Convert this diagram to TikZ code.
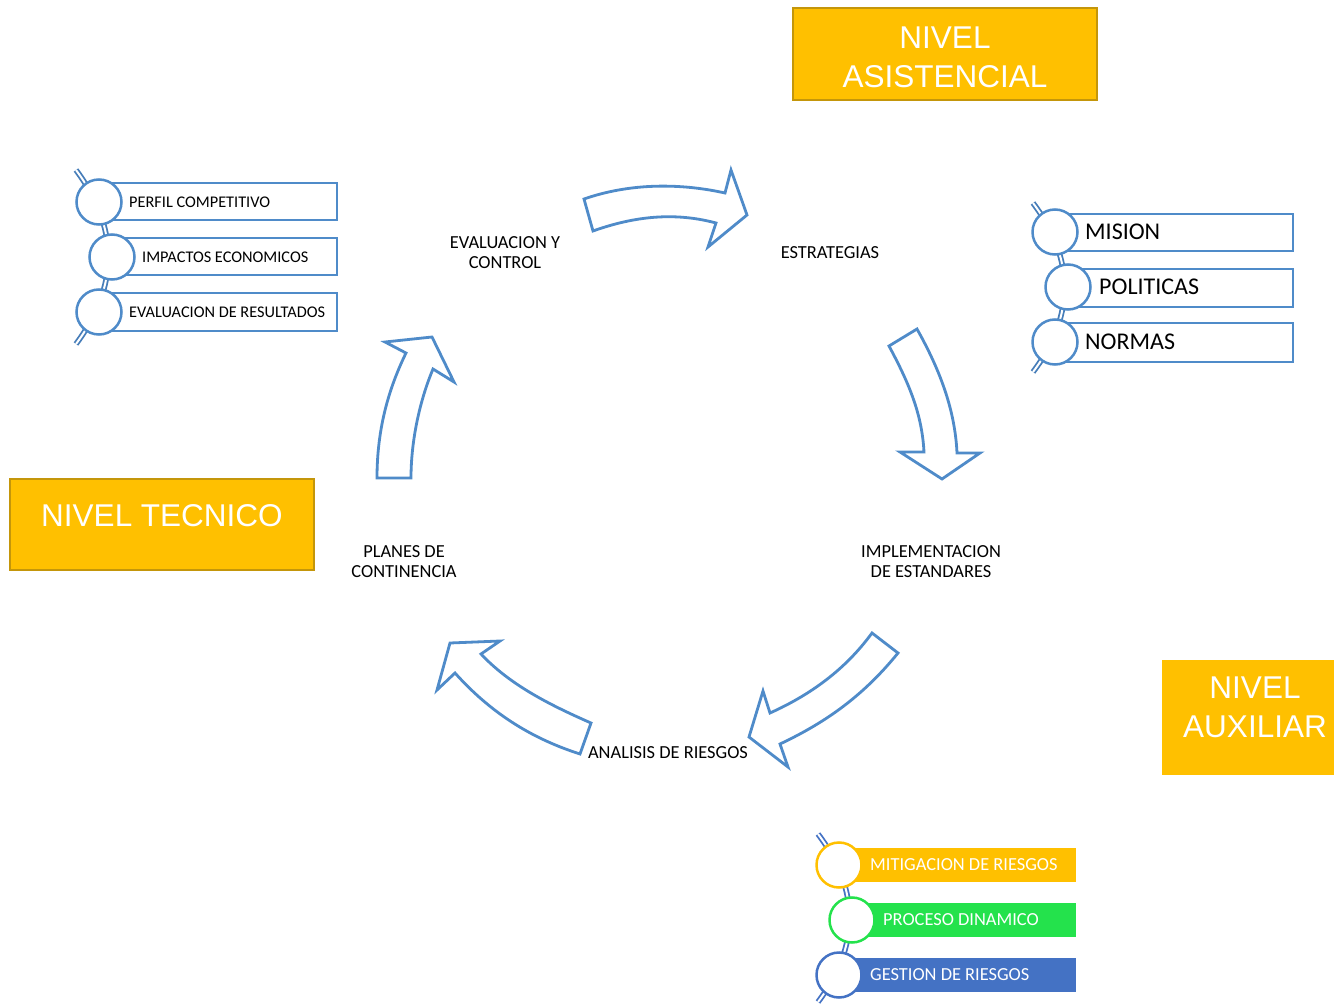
\documentclass[tikz,border=0pt]{standalone}
\usepackage{fontspec}
\setmainfont{Carlito}
\newfontfamily\arialf{Liberation Sans}
\definecolor{ablue}{RGB}{79,139,201}
\definecolor{sblue}{RGB}{70,125,185}
\definecolor{gold}{RGB}{255,192,0}
\definecolor{goldedge}{RGB}{196,150,10}
\definecolor{lgreen}{RGB}{36,226,76}
\definecolor{dblue}{RGB}{68,114,196}
\begin{document}
\begin{tikzpicture}[x=1pt,y=-1pt,
  blockarrow/.style={draw=ablue, line width=2.8pt, fill=white, line join=miter},
  lbl/.style={font=\fontsize{18.4}{20}\selectfont, align=center, text=black, inner sep=0pt},
  nivbox/.style={fill=gold, draw=goldedge, line width=2pt, inner sep=0pt},
  nivtxt/.style={font=\arialf\fontsize{31.5}{39}\selectfont, text=white, align=center, inner sep=0pt},
  spine/.style={draw=#1, double=white, double distance=2pt, line width=1.8pt},
  itembox/.style={draw=ablue, fill=white, line width=2.5pt},
  itemcirc/.style={circle, draw=#1, fill=white, line width=2.5pt, minimum size=45pt, inner sep=0pt},
  smalltxt/.style={anchor=west, font=\fontsize{16.3}{18}\selectfont, inner sep=0pt},
  bigtxt/.style={anchor=west, font=\fontsize{24}{28}\selectfont, inner sep=0pt},
  bartxt/.style={anchor=west, font=\fontsize{18.4}{20}\selectfont, text=white, inner sep=0pt}
]
\clip (0,0) rectangle (1334,1008);
\fill[white] (0,0) rectangle (1334,1008);

% ---- level boxes ----
\node[nivbox, minimum width=304pt, minimum height=92pt] (asis) at (945,54) {};
\node[nivtxt] (asisT) at ([yshift=-3.5pt]asis.center) {NIVEL\\ASISTENCIAL};
\node[nivbox, minimum width=304pt, minimum height=91pt] (tec) at (162,524.5) {};
\node[nivtxt] (tecT) at ([yshift=9pt]tec.center) {NIVEL TECNICO};
\node[fill=gold, inner sep=0pt, minimum width=186pt, minimum height=115pt] (aux) at (1255,717.5) {};
\node[nivtxt] (auxT) at ([yshift=10.5pt]aux.center) {NIVEL\\AUXILIAR};

% ---- cycle labels ----
\node[lbl] (eval) at (505,253) {EVALUACION Y\\CONTROL};
\node[lbl] (estr) at (830,253) {ESTRATEGIAS};
\node[lbl] (impl) at (931,562) {IMPLEMENTACION\\DE ESTANDARES};
\node[lbl] (anal) at (668,753) {ANALISIS DE RIESGOS};
\node[lbl] (plan) at (404,562) {PLANES DE\\CONTINENCIA};

% ---- block arrows ----
\draw[blockarrow] (584,199) .. controls (630,183) and (680,183) .. (725,193) -- (731,170) -- (747,215) -- (708,247) -- (716,223) .. controls (675,212) and (635,216) .. (593,231) -- cycle;
\draw[blockarrow] (889,346) -- (917,329) .. controls (940,370) and (955,410) .. (957,453) -- (980,453) -- (942,479) -- (900,452) -- (924,452) .. controls (922,415) and (910,385) .. (889,346) -- cycle;
\draw[blockarrow] (872,633) -- (898,653) .. controls (860,700) and (820,725) .. (780,744) -- (788,767) -- (749,737) -- (763,691) -- (770,713) .. controls (810,695) and (845,670) .. (872,633) -- cycle;
\draw[blockarrow] (591,723) -- (580,754) .. controls (530,738) and (490,712) .. (455,673) -- (437,690) -- (450,643) -- (500,641) -- (481,654) .. controls (510,685) and (550,705) .. (591,723) -- cycle;
\draw[blockarrow] (377,478) .. controls (377,430) and (388,390) .. (406,353) -- (385,342) -- (432,337) -- (454,382) -- (433,369) .. controls (420,400) and (411,440) .. (411,478) -- cycle;

% ---- top-left list ----
\coordinate (tlA) at (76,170);
\coordinate (tlB) at (76,344);
\draw[spine=sblue] (tlA) .. controls (119,228) and (119,286) .. (tlB);
\draw[itembox] (99,183) rectangle (337,220);
\draw[itembox] (112,238) rectangle (337,275);
\draw[itembox] (99,293) rectangle (337,331);
\node[itemcirc=ablue] (tl1) at (99,202) {};
\node[itemcirc=ablue] (tl2) at (112,257) {};
\node[itemcirc=ablue] (tl3) at (99,312) {};
\node[smalltxt] (tl1t) at (129,202) {PERFIL COMPETITIVO};
\node[smalltxt] (tl2t) at (142,257) {IMPACTOS ECONOMICOS};
\node[smalltxt] (tl3t) at (129,312) {EVALUACION DE RESULTADOS};

% ---- right list ----
\coordinate (rA) at (1033,203);
\coordinate (rB) at (1033,372);
\draw[spine=sblue] (rA) .. controls (1075,259) and (1075,316) .. (rB);
\draw[itembox] (1055,214) rectangle (1293,251);
\draw[itembox] (1068,269) rectangle (1293,307);
\draw[itembox] (1055,323) rectangle (1293,362);
\node[itemcirc=ablue] (r1) at (1055,232) {};
\node[itemcirc=ablue] (r2) at (1068,287) {};
\node[itemcirc=ablue] (r3) at (1055,342) {};
\node[bigtxt] (r1t) at (1085,232) {MISION};
\node[bigtxt] (r2t) at (1099,287) {POLITICAS};
\node[bigtxt] (r3t) at (1085,342) {NORMAS};

% ---- bottom list ----
\coordinate (bA) at (818,834);
\coordinate (bB) at (818,1002);
\draw[spine=dblue] (bA) .. controls (860,890) and (860,946) .. (bB);
\fill[gold] (839,848) rectangle (1076,882);
\fill[lgreen] (852,903) rectangle (1076,937);
\fill[dblue] (839,958) rectangle (1076,992);
\node[itemcirc=gold] (b1) at (839,865) {};
\node[itemcirc=lgreen] (b2) at (852,920) {};
\node[itemcirc=dblue] (b3) at (839,975) {};
\node[bartxt] (b1t) at (870,865) {MITIGACION DE RIESGOS};
\node[bartxt] (b2t) at (883,920) {PROCESO DINAMICO};
\node[bartxt] (b3t) at (870,975) {GESTION DE RIESGOS};
\end{tikzpicture}
\end{document}
